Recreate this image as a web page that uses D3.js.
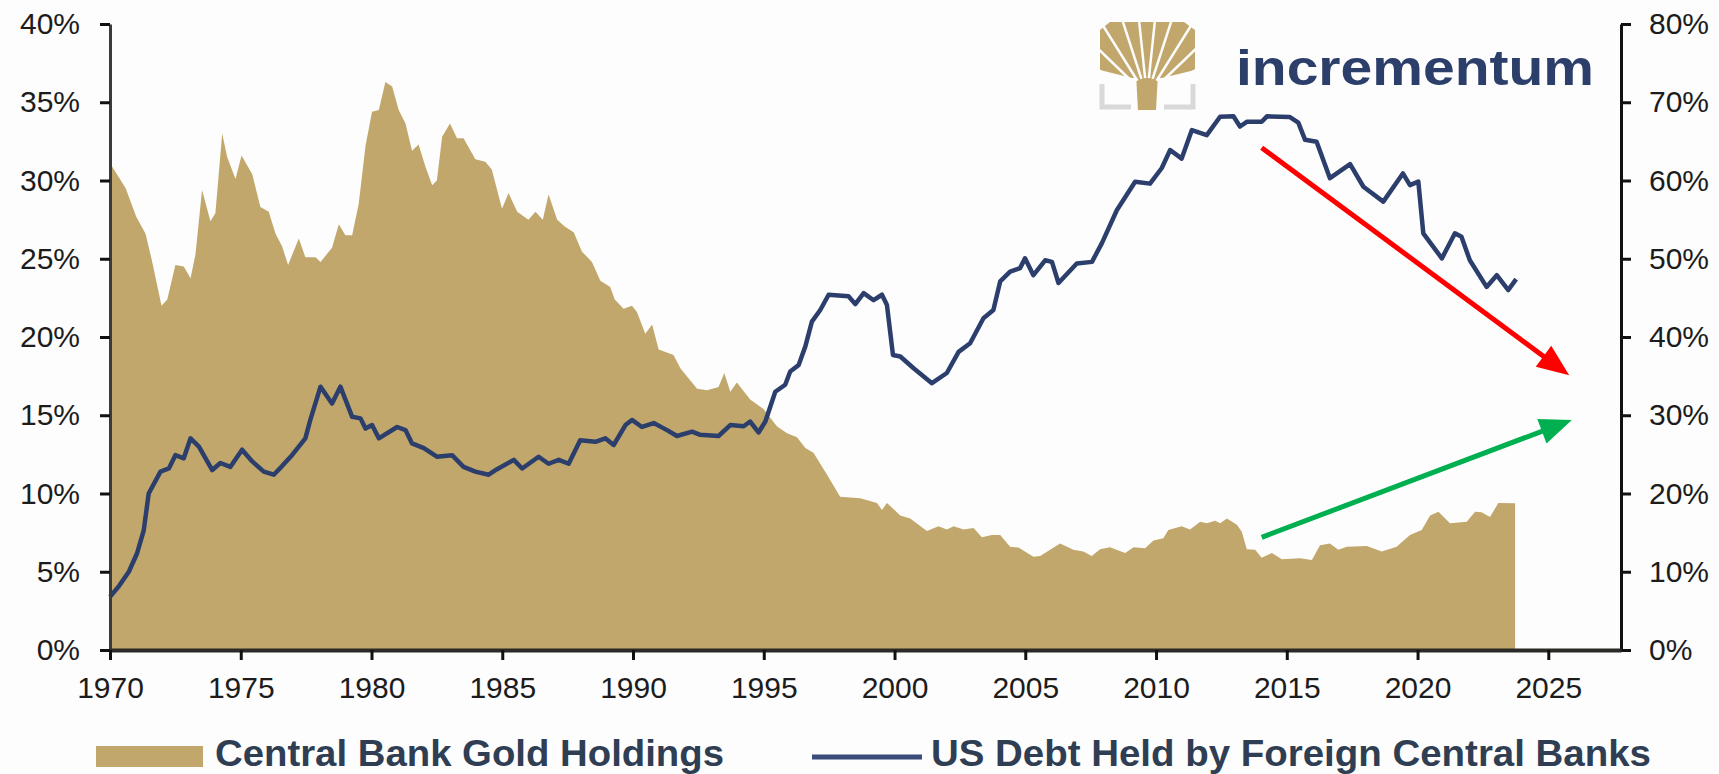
<!DOCTYPE html>
<html>
<head>
<meta charset="utf-8">
<script src="https://cdn.jsdelivr.net/npm/d3@7"></script>
<style>
  body { margin: 0; background: #fdfdfd; }
  svg { display: block; font-family: "Liberation Sans", Arial, sans-serif; }
</style>
</head>
<body>
<div id="chart"></div>
<script>
// Central bank gold holdings (% of reserves, left axis)
const goldYear = [1970.0, 1970.08, 1970.6, 1971.0, 1971.36, 1971.6, 1971.97, 1972.19, 1972.5, 1972.82, 1973.08, 1973.27, 1973.52, 1973.84, 1974.03, 1974.29, 1974.48, 1974.8, 1975.03, 1975.44, 1975.75, 1976.07, 1976.33, 1976.58, 1976.81, 1977.22, 1977.47, 1977.86, 1978.05, 1978.49, 1978.75, 1979.0, 1979.26, 1979.51, 1979.77, 1980.02, 1980.28, 1980.53, 1980.79, 1981.04, 1981.3, 1981.55, 1981.8, 1982.06, 1982.32, 1982.5, 1982.7, 1983.0, 1983.27, 1983.52, 1983.97, 1984.35, 1984.6, 1984.99, 1985.24, 1985.57, 1986.0, 1986.27, 1986.55, 1986.77, 1987.1, 1987.4, 1987.73, 1988.05, 1988.43, 1988.75, 1989.13, 1989.3, 1989.64, 1989.96, 1990.15, 1990.47, 1990.73, 1990.98, 1991.55, 1991.81, 1992.45, 1992.83, 1993.27, 1993.49, 1993.72, 1993.97, 1994.48, 1994.99, 1995.5, 1995.89, 1996.27, 1996.59, 1996.9, 1997.42, 1997.92, 1998.69, 1999.33, 1999.52, 1999.71, 2000.22, 2000.6, 2001.24, 2001.68, 2002.0, 2002.26, 2002.64, 2003.02, 2003.34, 2003.72, 2004.04, 2004.42, 2004.74, 2005.31, 2005.57, 2006.33, 2006.84, 2007.22, 2007.54, 2007.86, 2008.24, 2008.82, 2009.14, 2009.58, 2009.9, 2010.28, 2010.47, 2010.98, 2011.3, 2011.69, 2011.94, 2012.26, 2012.45, 2012.71, 2013.09, 2013.28, 2013.47, 2013.79, 2014.04, 2014.43, 2014.81, 2015.51, 2015.96, 2016.27, 2016.65, 2016.97, 2017.29, 2018.06, 2018.63, 2019.2, 2019.71, 2020.16, 2020.48, 2020.8, 2021.24, 2021.88, 2022.2, 2022.45, 2022.77, 2023.09, 2023.73];
const goldPct = [31.0, 30.9, 29.5, 27.7, 26.6, 24.9, 22.0, 22.4, 24.6, 24.5, 23.75, 25.3, 29.4, 27.4, 27.9, 33.0, 31.5, 30.1, 31.6, 30.4, 28.3, 28.0, 26.6, 25.8, 24.6, 26.3, 25.1, 25.1, 24.8, 25.7, 27.2, 26.5, 26.5, 28.5, 32.2, 34.4, 34.5, 36.3, 36.0, 34.5, 33.65, 31.9, 32.3, 30.9, 29.7, 30.0, 32.8, 33.65, 32.7, 32.7, 31.35, 31.2, 30.7, 28.2, 29.2, 28.0, 27.5, 28.0, 27.5, 29.1, 27.5, 27.05, 26.7, 25.45, 24.8, 23.6, 23.2, 22.4, 21.8, 22.0, 21.6, 20.2, 20.8, 19.2, 18.85, 18.0, 16.7, 16.6, 16.8, 17.7, 16.5, 17.1, 16.0, 15.4, 14.3, 13.85, 13.6, 12.9, 12.6, 11.2, 9.8, 9.7, 9.4, 8.95, 9.4, 8.6, 8.4, 7.6, 7.9, 7.7, 7.9, 7.7, 7.8, 7.2, 7.35, 7.35, 6.6, 6.55, 5.96, 6.0, 6.8, 6.4, 6.3, 6.0, 6.43, 6.56, 6.2, 6.56, 6.5, 7.0, 7.14, 7.67, 7.9, 7.7, 8.2, 8.1, 8.26, 8.1, 8.4, 8.0, 7.56, 6.43, 6.4, 5.9, 6.2, 5.8, 5.86, 5.75, 6.7, 6.8, 6.4, 6.6, 6.65, 6.3, 6.6, 7.35, 7.67, 8.6, 8.84, 8.1, 8.2, 8.84, 8.8, 8.5, 9.4, 9.37];

// US debt held by foreign central banks (%, right axis)
const debtYear = [1970.0, 1970.35, 1970.72, 1971.04, 1971.29, 1971.48, 1971.93, 1972.25, 1972.5, 1972.82, 1973.08, 1973.4, 1973.91, 1974.22, 1974.6, 1975.05, 1975.44, 1975.88, 1976.26, 1976.58, 1976.96, 1977.47, 1977.66, 1978.05, 1978.49, 1978.81, 1979.26, 1979.58, 1979.77, 1980.02, 1980.28, 1980.98, 1981.3, 1981.55, 1982.0, 1982.5, 1983.08, 1983.52, 1983.97, 1984.48, 1984.8, 1985.44, 1985.76, 1986.39, 1986.77, 1987.16, 1987.54, 1987.98, 1988.56, 1988.94, 1989.26, 1989.71, 1989.96, 1990.34, 1990.79, 1991.3, 1991.68, 1992.26, 1992.57, 1993.27, 1993.72, 1994.23, 1994.48, 1994.8, 1995.06, 1995.44, 1995.82, 1996.01, 1996.33, 1996.59, 1996.84, 1997.16, 1997.48, 1998.24, 1998.5, 1998.82, 1999.2, 1999.52, 1999.71, 1999.94, 2000.22, 2000.73, 2001.43, 2002.0, 2002.45, 2002.89, 2003.4, 2003.78, 2004.04, 2004.42, 2004.8, 2004.99, 2005.31, 2005.76, 2006.02, 2006.27, 2006.97, 2007.55, 2007.93, 2008.5, 2009.2, 2009.77, 2010.22, 2010.54, 2010.98, 2011.37, 2011.94, 2012.45, 2012.96, 2013.21, 2013.47, 2014.04, 2014.24, 2015.12, 2015.44, 2015.7, 2016.14, 2016.65, 2017.42, 2017.93, 2018.69, 2019.44, 2019.71, 2020.03, 2020.22, 2020.93, 2021.43, 2021.68, 2022.0, 2022.64, 2023.03, 2023.47, 2023.77];
const debtPct = [6.8, 8.2, 10.0, 12.4, 15.3, 20.0, 22.8, 23.2, 24.9, 24.5, 27.05, 26.0, 23.0, 23.9, 23.4, 25.6, 24.1, 22.8, 22.4, 23.5, 24.9, 27.05, 29.4, 33.65, 31.5, 33.65, 29.8, 29.6, 28.3, 28.75, 27.05, 28.5, 28.1, 26.4, 25.8, 24.7, 24.9, 23.4, 22.8, 22.4, 23.1, 24.3, 23.2, 24.7, 23.8, 24.3, 23.8, 26.8, 26.6, 27.05, 26.2, 28.75, 29.4, 28.5, 29.0, 28.1, 27.35, 27.9, 27.5, 27.35, 28.75, 28.6, 29.2, 27.8, 29.2, 33.0, 33.9, 35.6, 36.4, 38.8, 41.96, 43.45, 45.4, 45.2, 44.2, 45.6, 44.7, 45.4, 44.1, 37.7, 37.5, 36.0, 34.1, 35.4, 38.1, 39.2, 42.4, 43.45, 47.1, 48.35, 48.8, 50.05, 47.9, 49.8, 49.6, 46.9, 49.4, 49.6, 52.0, 56.2, 59.85, 59.6, 61.6, 63.9, 62.8, 66.45, 65.8, 68.15, 68.2, 66.9, 67.5, 67.5, 68.2, 68.1, 67.4, 65.2, 64.95, 60.3, 62.1, 59.2, 57.3, 60.9, 59.4, 59.85, 53.25, 50.05, 53.25, 52.8, 49.8, 46.4, 47.9, 46.0, 47.4];

const yearTicks = [1970, 1975, 1980, 1985, 1990, 1995, 2000, 2005, 2010, 2015, 2020, 2025];
const leftTicks = [0, 5, 10, 15, 20, 25, 30, 35, 40];
const rightTicks = [0, 10, 20, 30, 40, 50, 60, 70, 80];

// trend arrows: [year, right-axis %] start and end
const redArrow = [[2014.04, 64.2], [2025.8, 35.1]];
const greenArrow = [[2014.04, 14.4], [2025.9, 29.4]];

const seriesNames = ["Central Bank Gold Holdings", "US Debt Held by Foreign Central Banks"];

document.addEventListener("DOMContentLoaded", function () {
  const W = 1719;
  const H = 774;
  const plot = { left: 110, right: 1621, top: 24, bottom: 650 };
  const gold = "#c1a76c";
  const navy = "#2b3e6c";
  const legendInk = "#2f3e53";

  const svg = d3
    .select("#chart")
    .append("svg")
    .attr("width", W)
    .attr("height", H);

  svg.append("rect").attr("width", W).attr("height", H).attr("fill", "#fdfdfd");

  const x = d3.scaleLinear().domain([1970, 2027.78]).range([plot.left, plot.right]);
  const yL = d3.scaleLinear().domain([0, 40]).range([plot.bottom, plot.top]);
  const yR = d3.scaleLinear().domain([0, 80]).range([plot.bottom, plot.top]);

  const goldData = goldYear.map((yr, i) => ({ yr, v: goldPct[i] }));
  const debtData = debtYear.map((yr, i) => ({ yr, v: debtPct[i] }));

  // gold area
  svg
    .append("path")
    .datum(goldData)
    .attr("fill", gold)
    .attr(
      "d",
      d3
        .area()
        .x((d) => x(d.yr))
        .y0(yL(0))
        .y1((d) => yL(d.v))
    );

  // debt line
  svg
    .append("path")
    .datum(debtData)
    .attr("fill", "none")
    .attr("stroke", navy)
    .attr("stroke-width", 4.5)
    .attr("stroke-linejoin", "round")
    .attr(
      "d",
      d3
        .line()
        .x((d) => x(d.yr))
        .y((d) => yR(d.v))
    );

  // arrows
  function drawArrow(pts, color) {
    const x1 = x(pts[0][0]);
    const y1 = yR(pts[0][1]);
    const x2 = x(pts[1][0]);
    const y2 = yR(pts[1][1]);
    const ang = Math.atan2(y2 - y1, x2 - x1);
    const headLen = 32;
    const headW = 13;
    const bx = x2 - headLen * Math.cos(ang);
    const by = y2 - headLen * Math.sin(ang);
    svg
      .append("line")
      .attr("x1", x1)
      .attr("y1", y1)
      .attr("x2", bx + 2 * Math.cos(ang))
      .attr("y2", by + 2 * Math.sin(ang))
      .attr("stroke", color)
      .attr("stroke-width", 5);
    const px = -Math.sin(ang);
    const py = Math.cos(ang);
    svg
      .append("path")
      .attr("fill", color)
      .attr(
        "d",
        `M${x2},${y2}L${bx + px * headW},${by + py * headW}L${bx - px * headW},${by - py * headW}Z`
      );
  }
  drawArrow(redArrow, "#ff0000");
  drawArrow(greenArrow, "#00b050");

  // axes
  const leftAxis = svg
    .append("g")
    .attr("transform", `translate(${plot.left},0)`)
    .call(
      d3
        .axisLeft(yL)
        .tickValues(leftTicks)
        .tickFormat((d) => d + "%")
        .tickSize(10)
        .tickSizeOuter(0)
        .tickPadding(20)
    );

  const rightAxis = svg
    .append("g")
    .attr("transform", `translate(${plot.right},0)`)
    .call(
      d3
        .axisRight(yR)
        .tickValues(rightTicks)
        .tickFormat((d) => d + "%")
        .tickSize(10)
        .tickSizeOuter(0)
        .tickPadding(18)
    );

  const bottomAxis = svg
    .append("g")
    .attr("transform", `translate(0,${plot.bottom})`)
    .call(
      d3
        .axisBottom(x)
        .tickValues(yearTicks)
        .tickFormat(d3.format("d"))
        .tickSize(10)
        .tickSizeOuter(0)
        .tickPadding(17)
    );

  [leftAxis, rightAxis, bottomAxis].forEach((g) => {
    g.selectAll("text")
      .attr("fill", "#1c1c1c")
      .style("font-size", "30px")
      .style("font-family", '"Liberation Sans", Arial, sans-serif');
    g.selectAll(".tick line").attr("stroke", "#111").attr("stroke-width", 3);
    g.select(".domain").attr("stroke-width", 3);
  });
  leftAxis.select(".domain").attr("stroke", "#3b3b3b");
  rightAxis.select(".domain").attr("stroke", "#111");
  bottomAxis.select(".domain").attr("stroke", "#2b2a26").attr("stroke-width", 4);

  // logo
  const logo = svg.append("g");
  const cx = 1147;
  const crown = [
    [1100, 30], [1110, 22], [1184, 22], [1195, 30],
    [1195, 70], [1162, 78], [1132, 78], [1100, 70],
  ];
  logo.append("path").attr("d", "M" + crown.join("L") + "Z").attr("fill", gold);
  logo
    .append("path")
    .attr("d", `M${cx - 11},74L${cx + 11},74L${cx + 9},110L${cx - 9},110Z`)
    .attr("fill", gold);
  const rays = [-80, -62, -46, -32, -18, -6, 6, 18, 32, 46, 62, 80];
  rays.forEach((a) => {
    const r = (a * Math.PI) / 180;
    logo
      .append("line")
      .attr("x1", cx + Math.sin(r) * 18)
      .attr("y1", 96 - Math.cos(r) * 18)
      .attr("x2", cx + Math.sin(r) * 120)
      .attr("y2", 96 - Math.cos(r) * 120)
      .attr("stroke", "#fdfdfd")
      .attr("stroke-width", 2.5);
  });
  logo
    .append("path")
    .attr("d", "M1102,84L1102,107L1131,107M1193,84L1193,107L1164,107")
    .attr("fill", "none")
    .attr("stroke", "#d9d9dc")
    .attr("stroke-width", 5);
  logo
    .append("text")
    .attr("x", 1236)
    .attr("y", 85)
    .attr("textLength", 358)
    .attr("lengthAdjust", "spacingAndGlyphs")
    .attr("fill", "#2c3e6a")
    .style("font-size", "50px")
    .style("font-weight", "bold")
    .text("incrementum");

  // legend
  const legend = svg.append("g");
  legend
    .append("rect")
    .attr("x", 96)
    .attr("y", 746)
    .attr("width", 107)
    .attr("height", 21)
    .attr("fill", gold);
  legend
    .append("text")
    .attr("x", 215)
    .attr("y", 766)
    .attr("textLength", 509)
    .attr("lengthAdjust", "spacingAndGlyphs")
    .attr("fill", legendInk)
    .style("font-size", "36px")
    .style("font-weight", "bold")
    .text(seriesNames[0]);
  legend
    .append("line")
    .attr("x1", 812)
    .attr("x2", 922)
    .attr("y1", 757)
    .attr("y2", 757)
    .attr("stroke", "#3a4d7a")
    .attr("stroke-width", 5);
  legend
    .append("text")
    .attr("x", 931)
    .attr("y", 766)
    .attr("textLength", 720)
    .attr("lengthAdjust", "spacingAndGlyphs")
    .attr("fill", legendInk)
    .style("font-size", "36px")
    .style("font-weight", "bold")
    .text(seriesNames[1]);
});
</script>
</body>
</html>
